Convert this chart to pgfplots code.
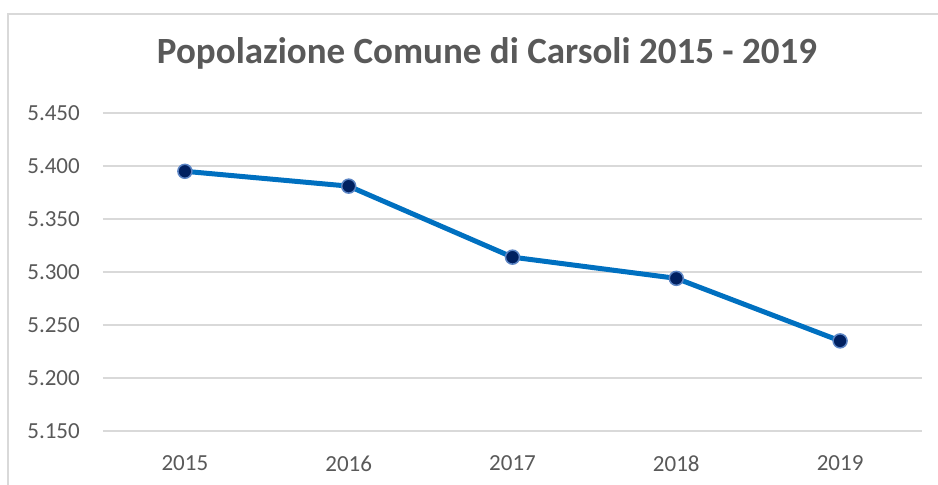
\documentclass[border=0pt]{standalone}
\usepackage{fontspec}
\setmainfont{Carlito}
\usepackage{pgfplots}
\pgfplotsset{compat=1.18}
\definecolor{txtgray}{HTML}{595959}
\definecolor{gridgray}{HTML}{D9D9D9}
\definecolor{frame}{HTML}{D9D9D9}
\definecolor{lineblue}{HTML}{0070C0}
\definecolor{markfill}{HTML}{002060}
\definecolor{markdraw}{HTML}{5B84C4}
\begin{document}
\begin{tikzpicture}[x=1pt,y=1pt]
\useasboundingbox (0,0) rectangle (938,485);
\draw[frame, line width=2pt] (8,-5) -- (8,471) -- (945,471);
\node[font=\fontsize{37}{42}\selectfont\bfseries, text=txtgray] at (487,432) {Popolazione Comune di Carsoli 2015 - 2019};
\begin{axis}[
  at={(103pt,54pt)}, anchor=south west,
  scale only axis, width=819pt, height=318pt,
  xmin=-0.5, xmax=4.5, ymin=5150, ymax=5450,
  xtick={0,1,2,3,4}, xticklabels={2015,2016,2017,2018,2019},
  ytick={5150,5200,5250,5300,5350,5400,5450},
  yticklabels={5.150,5.200,5.250,5.300,5.350,5.400,5.450},
  axis line style={draw=none}, major tick length=0pt,
  ymajorgrids, grid style={gridgray, line width=1.5pt},
  ticklabel style={font=\fontsize{23}{27}\selectfont, text=txtgray, inner sep=0pt},
  yticklabel style={anchor=east, xshift=-23pt},
  xticklabel style={anchor=north, yshift=-24.5pt},
  clip=false,
]
\addplot[lineblue, line width=5pt, mark=*, mark size=7pt,
  mark options={fill=markfill, draw=markdraw, line width=1.5pt}]
  coordinates {(0,5395) (1,5381) (2,5314) (3,5294) (4,5235)};
\end{axis}
\end{tikzpicture}
\end{document}
